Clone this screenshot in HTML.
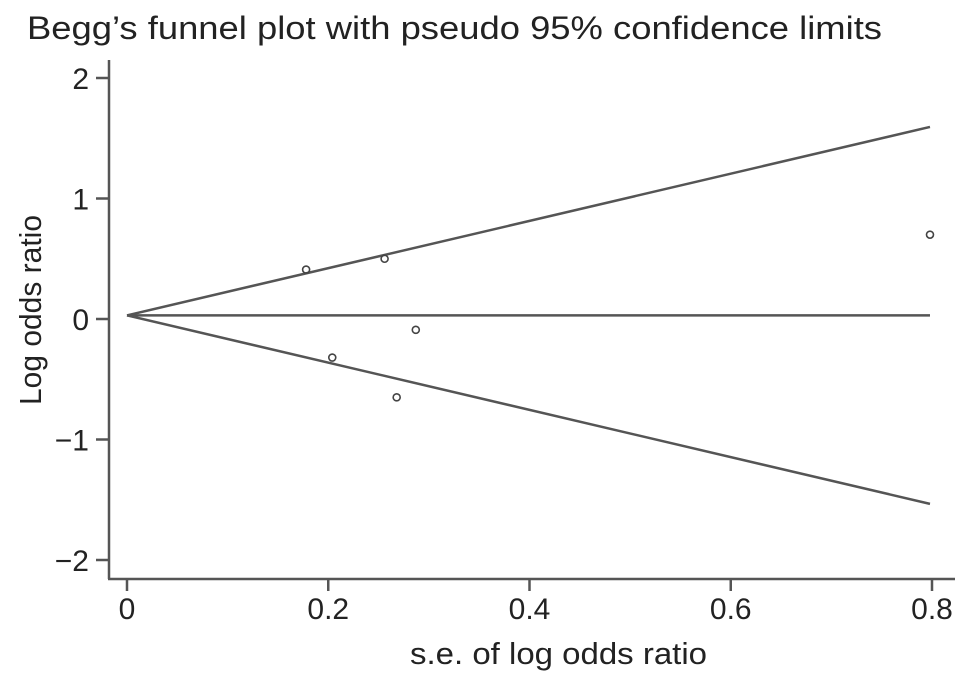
<!DOCTYPE html>
<html><head><meta charset="utf-8"><style>
body{margin:0;background:#fff;}
text{font-family:"Liberation Sans",Arial,sans-serif;fill:#222;}
</style></head><body>
<svg id="chart" width="969" height="681" xmlns="http://www.w3.org/2000/svg">
<text x="27" y="39" font-size="32" textLength="855" lengthAdjust="spacingAndGlyphs">Begg’s funnel plot with pseudo 95% confidence limits</text>
<g id="axes" stroke="#555" stroke-width="2.5" fill="none">
<line x1="109" y1="60" x2="109" y2="579"/>
<line x1="108" y1="579" x2="955" y2="579"/>
</g>
<g id="ticks"></g>
<g id="lines"></g>
<g id="points"></g>
<text x="410" y="664" font-size="31" textLength="297" lengthAdjust="spacingAndGlyphs">s.e. of log odds ratio</text>
<text transform="translate(41,310) rotate(-90)" font-size="31" text-anchor="middle" textLength="190" lengthAdjust="spacingAndGlyphs">Log odds ratio</text>
</svg>
<script>
const seValues=[0.178,0.256,0.204,0.268,0.287,0.798];
const logOR=[0.41,0.50,-0.32,-0.65,-0.09,0.70];
const pooled=[0.03];
const maxSE=[0.798];
const xTicks=[0,0.2,0.4,0.6,0.8];
const xTickLabels=["0","0.2","0.4","0.6","0.8"];
const yTicks=[2,1,0,-1,-2];
const yTickLabels=["2","1","0","\u22121","\u22122"];
const NS="http://www.w3.org/2000/svg";
function X(v){return 127+v*1006.25;}
function Y(v){return 319-v*120.5;}
function mk(t,a,p){const e=document.createElementNS(NS,t);for(const k in a)e.setAttribute(k,a[k]);p.appendChild(e);return e;}
const tg=document.getElementById('ticks');
xTicks.forEach((v,i)=>{
 const l=mk('line',{x1:X(v),x2:X(v),y1:579,y2:591,stroke:'#555','stroke-width':2.5},tg);
 
 
 const t=mk('text',{x:X(v),y:619,'font-size':30,'text-anchor':'middle'},tg);t.textContent=xTickLabels[i];
 
 
});
yTicks.forEach((v,i)=>{
 const l=mk('line',{x1:96,x2:109,y1:Y(v),y2:Y(v),stroke:'#555','stroke-width':2.5},tg);
 
 
 const t=mk('text',{x:89,y:Y(v)+11,'font-size':30,'text-anchor':'end'},tg);t.textContent=yTickLabels[i];
 
 
});
const lg=document.getElementById('lines');
const p=pooled[0],m=maxSE[0];
[[p,p,'pooled-estimate-line'],[p,p+1.96*m,'upper-limit-line'],[p,p-1.96*m,'lower-limit-line']].forEach(d=>{
 const l=mk('line',{x1:X(0),y1:Y(d[0]),x2:X(m),y2:Y(d[1]),stroke:'#555','stroke-width':2.5},lg);
 
 
});
const pg=document.getElementById('points');
seValues.forEach((s,i)=>{
 const c=mk('circle',{cx:X(s),cy:Y(logOR[i]),r:3.5,fill:'none',stroke:'#444','stroke-width':1.6},pg);
 
 
});
</script>
</body></html>
